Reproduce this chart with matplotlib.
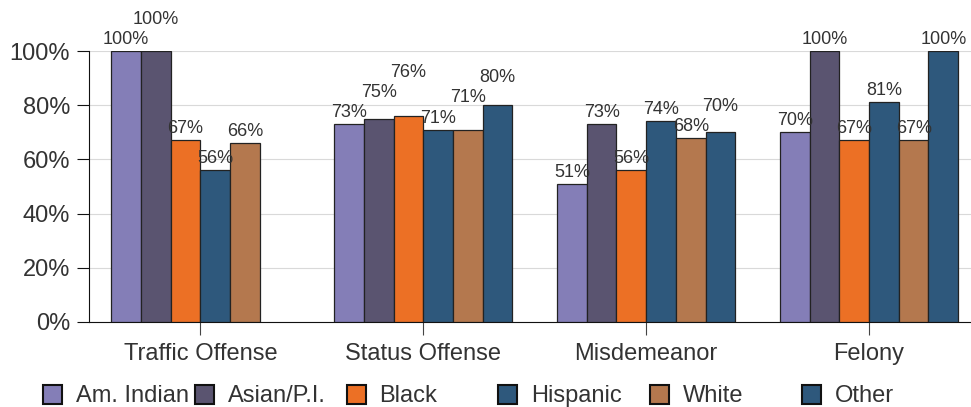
import numpy as np
import matplotlib
matplotlib.use('Agg')
import matplotlib.pyplot as plt
from matplotlib.patches import Rectangle

plt.rcParams['font.family'] = ['Liberation Sans', 'DejaVu Sans']

# data
categories = ['Traffic Offense', 'Status Offense', 'Misdemeanor', 'Felony']
groups = ['Am. Indian', 'Asian/P.I.', 'Black', 'Hispanic', 'White', 'Other']
am_indian = [100, 73, 51, 70]
asian = [100, 75, 73, 100]
black = [67, 76, 56, 67]
hispanic = [56, 71, 74, 81]
white = [66, 71, 68, 67]
other = [np.nan, 80, 70, 100]
series = [am_indian, asian, black, hispanic, white, other]
colors = ['#847EB7', '#5A5470', '#EC7025', '#2E587C', '#B4784E', '#2E587C']
yticks = [0, 20, 40, 60, 80, 100]

W, H = 971, 407
fig = plt.figure(figsize=(W / 100, H / 100), dpi=100)
ax = fig.add_axes([89 / W, 1 - 322 / H, (W - 89) / W, (322 - 51) / H])

x = np.arange(len(categories))
n = len(series)
bw = 0.8 / n

for i, vals in enumerate(series):
    ax.bar(x + (i - (n - 1) / 2) * bw, vals, bw, color=colors[i],
           edgecolor='#222222', linewidth=0.9, zorder=3)

# value labels: sit above the bar, pushed up when they hit the neighbour's label
gap, thr, step = 2.6, 5.2, 7.4
for c in range(len(categories)):
    prev = None
    for i, vals in enumerate(series):
        v = vals[c]
        if np.isnan(v):
            continue
        y = v + gap
        if prev is not None and abs(y - prev) < thr:
            y = prev + step
        ax.text(x[c] + (i - (n - 1) / 2) * bw, y, '%d%%' % v, ha='center',
                va='baseline', fontsize=13, color='#333333', clip_on=False,
                zorder=4)
        prev = y

ax.set_xlim(-0.5, (W - 200) / 223)
ax.set_ylim(0, 100)
ax.set_yticks(yticks)
ax.set_yticklabels(['%d%%' % t for t in yticks])
ax.set_xticks(x)
ax.set_xticklabels(categories)
ax.yaxis.grid(True, color='#d9d9d9', linewidth=0.8, zorder=0)
ax.set_axisbelow(True)

for s in ['top', 'right']:
    ax.spines[s].set_visible(False)
ax.spines['left'].set_color('#111111')
ax.spines['bottom'].set_color('#111111')
ax.spines['left'].set_linewidth(0.8)
ax.spines['bottom'].set_linewidth(0.8)

ax.tick_params(axis='y', length=8.6, width=0.8, color='#111111', pad=5,
               labelsize=17, labelcolor='#333333')
ax.tick_params(axis='x', length=9.4, width=0.8, color='#444444', pad=6,
               labelsize=17, labelcolor='#333333')

# legend row along the bottom
for i, name in enumerate(groups):
    bx = 43 + i * 151.8
    fig.add_artist(Rectangle((bx / W, (H - 404) / H), 19 / W, 19 / H,
                             facecolor=colors[i], edgecolor='#111111',
                             linewidth=1.5, transform=fig.transFigure))
    fig.text((bx + 33) / W, (H - 402) / H, name, fontsize=17,
             color='#333333', va='baseline', ha='left')

fig.savefig('out.png', dpi=100)
